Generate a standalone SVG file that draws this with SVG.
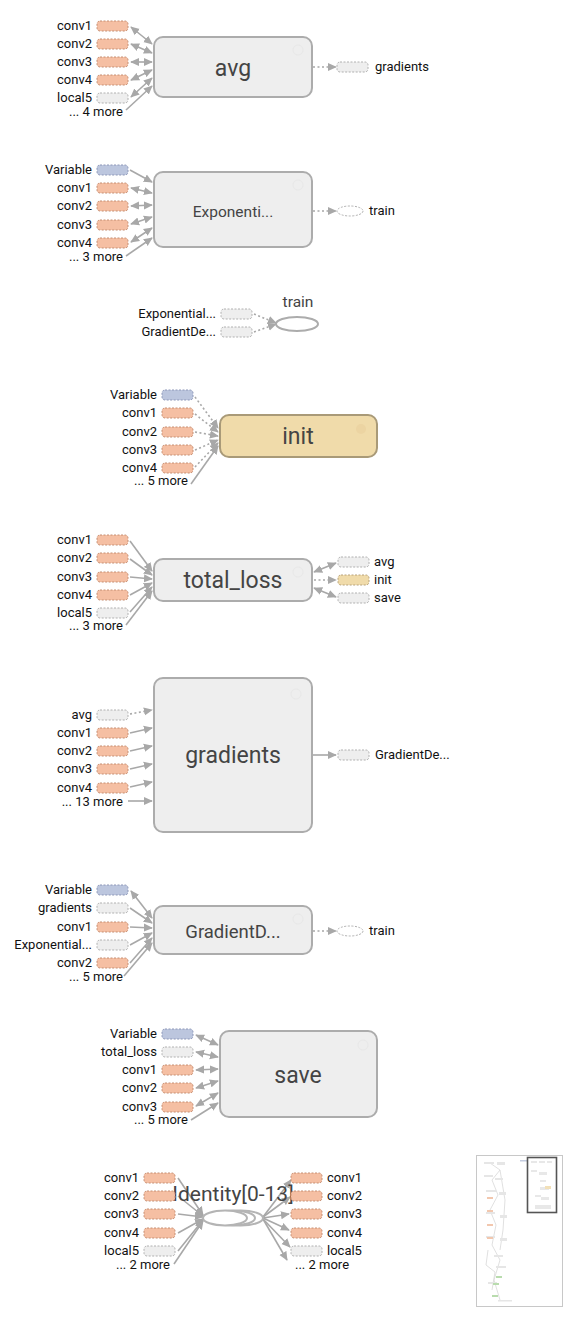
<svg xmlns="http://www.w3.org/2000/svg" width="571" height="1319" viewBox="0 0 571 1319">
<style>
.bg{fill:#fff}
.box{fill:#eeeeee;stroke:#acacac;stroke-width:2}
.ini{fill:#f0dbaa;stroke:#a99a78;stroke-width:2}
.big{font-family:Roboto,"Liberation Sans",sans-serif;fill:#444;text-anchor:middle}
.lb{font-family:Roboto,"Liberation Sans",sans-serif;font-size:13px;fill:#111}
.r{text-anchor:end}
.or{fill:#f5bfa3;stroke:#c58e72;stroke-width:1;stroke-dasharray:2 1.5}
.gr{fill:#eeeeee;stroke:#b0b0b0;stroke-width:1;stroke-dasharray:2 1.5}
.bl{fill:#bcc6de;stroke:#8d97b8;stroke-width:1;stroke-dasharray:2 1.5}
.tn{fill:#f0dbaa;stroke:#b8a27a;stroke-width:1;stroke-dasharray:2 1.5}
.ov{fill:#fff;stroke:#b0b0b0;stroke-width:1;stroke-dasharray:2 1.5}
.e{stroke:#a8a8a8;stroke-width:1.6;fill:none}
.d{stroke-dasharray:2 2.5}
.ic{fill:none;stroke:#e8e8e8;stroke-width:1}
</style>
<defs>
<marker id="a" viewBox="0 0 10 10" refX="9" refY="5" markerWidth="9" markerHeight="9" markerUnits="userSpaceOnUse" orient="auto-start-reverse"><path d="M0,0.5 L10,5 L0,9.5 z" fill="#a8a8a8"/></marker>
</defs>
<rect class="bg" x="0" y="0" width="571" height="1319"/>

<g id="connectors">
<!-- avg -->
<line class="e" x1="131" y1="27" x2="152" y2="44" marker-start="url(#a)" marker-end="url(#a)"/>
<line class="e" x1="131" y1="44" x2="152" y2="53" marker-start="url(#a)" marker-end="url(#a)"/>
<line class="e" x1="131" y1="62" x2="152" y2="62" marker-start="url(#a)" marker-end="url(#a)"/>
<line class="e" x1="131" y1="80" x2="152" y2="70" marker-start="url(#a)" marker-end="url(#a)"/>
<line class="e" x1="131" y1="97" x2="152" y2="78" marker-start="url(#a)" marker-end="url(#a)"/>
<line class="e" x1="126" y1="110" x2="152" y2="86" marker-end="url(#a)"/>
<line class="e d" x1="313" y1="67" x2="336" y2="67" marker-end="url(#a)"/>
<!-- Exponential -->
<line class="e" x1="130" y1="170" x2="152" y2="182" marker-end="url(#a)"/>
<line class="e" x1="131" y1="188" x2="152" y2="193" marker-start="url(#a)" marker-end="url(#a)"/>
<line class="e" x1="131" y1="206" x2="152" y2="205" marker-start="url(#a)" marker-end="url(#a)"/>
<line class="e" x1="131" y1="224" x2="152" y2="217" marker-start="url(#a)" marker-end="url(#a)"/>
<line class="e" x1="131" y1="242" x2="152" y2="228" marker-start="url(#a)" marker-end="url(#a)"/>
<line class="e" x1="126" y1="256" x2="152" y2="238" marker-end="url(#a)"/>
<line class="e d" x1="313" y1="211" x2="336" y2="211" marker-end="url(#a)"/>
<!-- train -->
<line class="e d" x1="254" y1="314" x2="276" y2="323" marker-end="url(#a)"/>
<line class="e d" x1="254" y1="332" x2="276" y2="324" marker-end="url(#a)"/>
<!-- init -->
<line class="e d" x1="195" y1="397" x2="218" y2="428" marker-end="url(#a)"/>
<line class="e d" x1="195" y1="414" x2="218" y2="432" marker-end="url(#a)"/>
<line class="e d" x1="195" y1="432" x2="218" y2="436" marker-end="url(#a)"/>
<line class="e d" x1="195" y1="450" x2="218" y2="440" marker-end="url(#a)"/>
<line class="e d" x1="195" y1="467" x2="218" y2="443" marker-end="url(#a)"/>
<line class="e" x1="191" y1="484" x2="218" y2="446" marker-end="url(#a)"/>
<!-- total_loss -->
<line class="e" x1="130" y1="541" x2="152" y2="571" marker-end="url(#a)"/>
<line class="e" x1="130" y1="559" x2="152" y2="575" marker-end="url(#a)"/>
<line class="e" x1="130" y1="577" x2="152" y2="579" marker-end="url(#a)"/>
<line class="e" x1="130" y1="595" x2="152" y2="583" marker-end="url(#a)"/>
<line class="e" x1="130" y1="612" x2="152" y2="587" marker-end="url(#a)"/>
<line class="e" x1="126" y1="625" x2="152" y2="591" marker-end="url(#a)"/>
<line class="e" x1="314" y1="572" x2="336" y2="563" marker-start="url(#a)" marker-end="url(#a)"/>
<line class="e d" x1="314" y1="580" x2="336" y2="580" marker-end="url(#a)"/>
<line class="e" x1="314" y1="588" x2="336" y2="597" marker-start="url(#a)" marker-end="url(#a)"/>
<!-- gradients -->
<line class="e d" x1="130" y1="714" x2="152" y2="710" marker-end="url(#a)"/>
<line class="e" x1="130" y1="733" x2="152" y2="728" marker-end="url(#a)"/>
<line class="e" x1="130" y1="751" x2="152" y2="746" marker-end="url(#a)"/>
<line class="e" x1="130" y1="769" x2="152" y2="764" marker-end="url(#a)"/>
<line class="e" x1="130" y1="787" x2="152" y2="782" marker-end="url(#a)"/>
<line class="e" x1="128" y1="801" x2="152" y2="801" marker-end="url(#a)"/>
<line class="e" x1="313" y1="755" x2="336" y2="755" marker-end="url(#a)"/>
<!-- GradientD -->
<line class="e" x1="131" y1="891" x2="152" y2="918" marker-start="url(#a)" marker-end="url(#a)"/>
<line class="e" x1="130" y1="908" x2="152" y2="923" marker-end="url(#a)"/>
<line class="e" x1="130" y1="927" x2="152" y2="928" marker-end="url(#a)"/>
<line class="e" x1="130" y1="945" x2="152" y2="933" marker-end="url(#a)"/>
<line class="e" x1="130" y1="963" x2="152" y2="938" marker-end="url(#a)"/>
<line class="e" x1="124" y1="976" x2="152" y2="943" marker-end="url(#a)"/>
<line class="e d" x1="313" y1="931" x2="336" y2="931" marker-end="url(#a)"/>
<!-- save -->
<line class="e" x1="196" y1="1035" x2="218" y2="1045" marker-start="url(#a)" marker-end="url(#a)"/>
<line class="e" x1="196" y1="1052" x2="218" y2="1057" marker-start="url(#a)" marker-end="url(#a)"/>
<line class="e" x1="196" y1="1070" x2="218" y2="1069" marker-start="url(#a)" marker-end="url(#a)"/>
<line class="e" x1="196" y1="1088" x2="218" y2="1081" marker-start="url(#a)" marker-end="url(#a)"/>
<line class="e" x1="196" y1="1106" x2="218" y2="1093" marker-start="url(#a)" marker-end="url(#a)"/>
<line class="e" x1="191" y1="1120" x2="218" y2="1103" marker-end="url(#a)"/>
<!-- Identity -->
<line class="e" x1="178" y1="1178" x2="203" y2="1215" marker-end="url(#a)"/>
<line class="e" x1="178" y1="1196" x2="203" y2="1216" marker-end="url(#a)"/>
<line class="e" x1="178" y1="1214" x2="203" y2="1217" marker-end="url(#a)"/>
<line class="e" x1="178" y1="1233" x2="203" y2="1219" marker-end="url(#a)"/>
<line class="e" x1="178" y1="1251" x2="203" y2="1220" marker-end="url(#a)"/>
<line class="e" x1="174" y1="1264" x2="203" y2="1221" marker-end="url(#a)"/>
<line class="e" x1="263" y1="1217" x2="291" y2="1180" marker-end="url(#a)"/>
<line class="e" x1="263" y1="1217" x2="290" y2="1197" marker-end="url(#a)"/>
<line class="e" x1="263" y1="1218" x2="289" y2="1214" marker-end="url(#a)"/>
<line class="e" x1="263" y1="1218" x2="289" y2="1230" marker-end="url(#a)"/>
<line class="e" x1="263" y1="1219" x2="290" y2="1247" marker-end="url(#a)"/>
<line class="e" x1="263" y1="1219" x2="287" y2="1260" marker-end="url(#a)"/>
</g>

<g id="avg">
<rect class="box" x="154" y="37" width="158" height="60" rx="9"/>
<circle class="ic" cx="298" cy="50" r="5"/>
<text class="big" x="233" y="76" font-size="23">avg</text>
<rect class="or" x="97" y="21" width="31" height="10" rx="3"/><text class="lb r" x="92" y="30">conv1</text>
<rect class="or" x="97" y="39" width="31" height="10" rx="3"/><text class="lb r" x="92" y="48">conv2</text>
<rect class="or" x="97" y="57" width="31" height="10" rx="3"/><text class="lb r" x="92" y="66">conv3</text>
<rect class="or" x="97" y="75" width="31" height="10" rx="3"/><text class="lb r" x="92" y="84">conv4</text>
<rect class="gr" x="97" y="93" width="31" height="10" rx="3"/><text class="lb r" x="92" y="102">local5</text>
<text class="lb r" x="123" y="116">... 4 more</text>
<rect class="gr" x="337" y="62" width="31" height="10" rx="3"/><text class="lb" x="375" y="71">gradients</text>
</g>

<g id="exponential">
<rect class="box" x="154" y="172" width="158" height="75" rx="9"/>
<circle class="ic" cx="298" cy="185" r="5"/>
<text class="big" x="233" y="217" font-size="15.5">Exponenti...</text>
<rect class="bl" x="97" y="165" width="31" height="10" rx="3"/><text class="lb r" x="92" y="174">Variable</text>
<rect class="or" x="97" y="183" width="31" height="10" rx="3"/><text class="lb r" x="92" y="192">conv1</text>
<rect class="or" x="97" y="201" width="31" height="10" rx="3"/><text class="lb r" x="92" y="210">conv2</text>
<rect class="or" x="97" y="220" width="31" height="10" rx="3"/><text class="lb r" x="92" y="229">conv3</text>
<rect class="or" x="97" y="238" width="31" height="10" rx="3"/><text class="lb r" x="92" y="247">conv4</text>
<text class="lb r" x="123" y="261">... 3 more</text>
<ellipse class="ov" cx="350" cy="211" rx="13" ry="5"/><text class="lb" x="369" y="215">train</text>
</g>

<g id="train">
<ellipse cx="297" cy="324" rx="21" ry="7" fill="#fff" stroke="#acacac" stroke-width="2"/>
<text class="big" x="298" y="307" font-size="15.5">train</text>
<rect class="gr" x="221" y="309" width="31" height="10" rx="3"/><text class="lb r" x="216" y="318">Exponential...</text>
<rect class="gr" x="221" y="327" width="31" height="10" rx="3"/><text class="lb r" x="216" y="336">GradientDe...</text>
</g>

<g id="init">
<rect class="ini" x="220" y="415" width="157" height="42" rx="9"/>
<circle cx="361" cy="429" r="5" fill="#ecd4a2" stroke="none"/>
<text class="big" x="298" y="444" font-size="23">init</text>
<rect class="bl" x="162" y="390" width="31" height="10" rx="3"/><text class="lb r" x="157" y="399">Variable</text>
<rect class="or" x="162" y="408" width="31" height="10" rx="3"/><text class="lb r" x="157" y="417">conv1</text>
<rect class="or" x="162" y="427" width="31" height="10" rx="3"/><text class="lb r" x="157" y="436">conv2</text>
<rect class="or" x="162" y="445" width="31" height="10" rx="3"/><text class="lb r" x="157" y="454">conv3</text>
<rect class="or" x="162" y="463" width="31" height="10" rx="3"/><text class="lb r" x="157" y="472">conv4</text>
<text class="lb r" x="188" y="485">... 5 more</text>
</g>

<g id="total_loss">
<rect class="box" x="154" y="559" width="158" height="42" rx="9"/>
<circle class="ic" cx="298" cy="572" r="5"/>
<text class="big" x="233" y="588" font-size="23">total_loss</text>
<rect class="or" x="97" y="535" width="31" height="10" rx="3"/><text class="lb r" x="92" y="544">conv1</text>
<rect class="or" x="97" y="553" width="31" height="10" rx="3"/><text class="lb r" x="92" y="562">conv2</text>
<rect class="or" x="97" y="572" width="31" height="10" rx="3"/><text class="lb r" x="92" y="581">conv3</text>
<rect class="or" x="97" y="590" width="31" height="10" rx="3"/><text class="lb r" x="92" y="599">conv4</text>
<rect class="gr" x="97" y="608" width="31" height="10" rx="3"/><text class="lb r" x="92" y="617">local5</text>
<text class="lb r" x="123" y="630">... 3 more</text>
<rect class="gr" x="338" y="557" width="31" height="10" rx="3"/><text class="lb" x="374" y="566">avg</text>
<rect class="tn" x="338" y="575" width="31" height="10" rx="3"/><text class="lb" x="374" y="584">init</text>
<rect class="gr" x="338" y="593" width="31" height="10" rx="3"/><text class="lb" x="374" y="602">save</text>
</g>

<g id="gradients">
<rect class="box" x="154" y="678" width="158" height="154" rx="9"/>
<circle class="ic" cx="296" cy="694" r="5"/>
<text class="big" x="233" y="763" font-size="23">gradients</text>
<rect class="gr" x="97" y="710" width="31" height="10" rx="3"/><text class="lb r" x="92" y="719">avg</text>
<rect class="or" x="97" y="728" width="31" height="10" rx="3"/><text class="lb r" x="92" y="737">conv1</text>
<rect class="or" x="97" y="746" width="31" height="10" rx="3"/><text class="lb r" x="92" y="755">conv2</text>
<rect class="or" x="97" y="764" width="31" height="10" rx="3"/><text class="lb r" x="92" y="773">conv3</text>
<rect class="or" x="97" y="783" width="31" height="10" rx="3"/><text class="lb r" x="92" y="792">conv4</text>
<text class="lb r" x="123" y="806">... 13 more</text>
<rect class="gr" x="338" y="750" width="31" height="10" rx="3"/><text class="lb" x="375" y="759">GradientDe...</text>
</g>

<g id="gradientdescent">
<rect class="box" x="154" y="906" width="158" height="48" rx="9"/>
<circle class="ic" cx="298" cy="919" r="5"/>
<text class="big" x="233" y="938" font-size="18.5">GradientD...</text>
<rect class="bl" x="97" y="885" width="31" height="10" rx="3"/><text class="lb r" x="92" y="894">Variable</text>
<rect class="gr" x="97" y="903" width="31" height="10" rx="3"/><text class="lb r" x="92" y="912">gradients</text>
<rect class="or" x="97" y="922" width="31" height="10" rx="3"/><text class="lb r" x="92" y="931">conv1</text>
<rect class="gr" x="97" y="940" width="31" height="10" rx="3"/><text class="lb r" x="92" y="949">Exponential...</text>
<rect class="or" x="97" y="958" width="31" height="10" rx="3"/><text class="lb r" x="92" y="967">conv2</text>
<text class="lb r" x="123" y="981">... 5 more</text>
<ellipse class="ov" cx="350" cy="931" rx="13" ry="5"/><text class="lb" x="369" y="935">train</text>
</g>

<g id="save">
<rect class="box" x="220" y="1031" width="157" height="86" rx="9"/>
<circle class="ic" cx="363" cy="1045" r="5"/>
<text class="big" x="298" y="1083" font-size="23">save</text>
<rect class="bl" x="162" y="1029" width="31" height="10" rx="3"/><text class="lb r" x="157" y="1038">Variable</text>
<rect class="gr" x="162" y="1047" width="31" height="10" rx="3"/><text class="lb r" x="157" y="1056">total_loss</text>
<rect class="or" x="162" y="1065" width="31" height="10" rx="3"/><text class="lb r" x="157" y="1074">conv1</text>
<rect class="or" x="162" y="1083" width="31" height="10" rx="3"/><text class="lb r" x="157" y="1092">conv2</text>
<rect class="or" x="162" y="1102" width="31" height="10" rx="3"/><text class="lb r" x="157" y="1111">conv3</text>
<text class="lb r" x="188" y="1124">... 5 more</text>
</g>

<g id="identity">
<ellipse cx="241" cy="1218" rx="22" ry="7.5" fill="#fff" stroke="#b4b4b4" stroke-width="2"/>
<ellipse cx="233" cy="1218" rx="22" ry="7.5" fill="#fff" stroke="#b4b4b4" stroke-width="2"/>
<ellipse cx="225" cy="1218" rx="22" ry="7.5" fill="#fff" stroke="#b4b4b4" stroke-width="2"/>
<text class="big" x="233" y="1201" font-size="21">Identity[0-13]</text>
<rect class="or" x="144" y="1173" width="31" height="10" rx="3"/><text class="lb r" x="139" y="1182">conv1</text>
<rect class="or" x="144" y="1191" width="31" height="10" rx="3"/><text class="lb r" x="139" y="1200">conv2</text>
<rect class="or" x="144" y="1209" width="31" height="10" rx="3"/><text class="lb r" x="139" y="1218">conv3</text>
<rect class="or" x="144" y="1228" width="31" height="10" rx="3"/><text class="lb r" x="139" y="1237">conv4</text>
<rect class="gr" x="144" y="1246" width="31" height="10" rx="3"/><text class="lb r" x="139" y="1255">local5</text>
<text class="lb r" x="170" y="1269">... 2 more</text>
<rect class="or" x="291" y="1173" width="31" height="10" rx="3"/><text class="lb" x="327" y="1182">conv1</text>
<rect class="or" x="291" y="1191" width="31" height="10" rx="3"/><text class="lb" x="327" y="1200">conv2</text>
<rect class="or" x="291" y="1209" width="31" height="10" rx="3"/><text class="lb" x="327" y="1218">conv3</text>
<rect class="or" x="291" y="1228" width="31" height="10" rx="3"/><text class="lb" x="327" y="1237">conv4</text>
<rect class="gr" x="291" y="1246" width="31" height="10" rx="3"/><text class="lb" x="327" y="1255">local5</text>
<text class="lb" x="295" y="1269">... 2 more</text>
</g>

<g id="minimap">
<rect x="476.5" y="1155.5" width="86" height="151" fill="#fff" stroke="#c8c8c8" stroke-width="1"/>
<g stroke="#d8d8d8" stroke-width="0.8" fill="none">
<path d="M490,1163 L500,1170 L492,1180 L498,1195 L490,1210 L496,1225 L492,1245 L500,1260 L494,1280 L500,1300"/>
<path d="M500,1170 L505,1200 L503,1230 L500,1250"/>
<path d="M488,1250 L486,1265 L495,1272 L492,1290"/>
</g>
<g fill="#e6e6e6">
<rect x="484" y="1162" width="10" height="2"/><rect x="497" y="1162" width="8" height="3"/>
<rect x="484" y="1175" width="9" height="2"/><rect x="495" y="1178" width="8" height="2"/>
<rect x="486" y="1190" width="10" height="2"/><rect x="499" y="1192" width="7" height="3"/>
<rect x="486" y="1212" width="9" height="2"/><rect x="500" y="1215" width="7" height="3"/>
<rect x="486" y="1236" width="9" height="2"/><rect x="500" y="1238" width="7" height="3"/>
<rect x="494" y="1255" width="9" height="2"/><rect x="496" y="1266" width="10" height="2"/>
<rect x="488" y="1282" width="9" height="2"/><rect x="498" y="1300" width="14" height="1.5"/>
</g>
<g fill="#f2c7ae">
<rect x="487" y="1197" width="6" height="2"/><rect x="487" y="1210" width="6" height="2"/>
<rect x="487" y="1224" width="6" height="2"/><rect x="487" y="1237" width="6" height="2"/>
</g>
<g fill="#b9dcae">
<rect x="496" y="1276" width="6" height="2"/><rect x="493" y="1283" width="6" height="2"/><rect x="492" y="1295" width="6" height="2"/>
</g>
<rect x="520" y="1160" width="8" height="1.5" fill="#c5cde0"/>
<rect x="527.5" y="1157.5" width="29" height="55" fill="none" stroke="#555" stroke-width="1.6"/>
<g fill="#e8e8e8">
<rect x="531" y="1161" width="6" height="2"/><rect x="539" y="1161" width="6" height="2"/><rect x="547" y="1161" width="5" height="2"/>
<rect x="531" y="1170" width="6" height="2"/><rect x="539" y="1172" width="8" height="3"/>
<rect x="540" y="1180" width="6" height="2"/>
<rect x="540" y="1187" width="9" height="3"/><rect x="535" y="1195" width="6" height="2"/><rect x="541" y="1197" width="8" height="3"/>
<rect x="535" y="1205" width="16" height="4"/>
</g>
<rect x="545" y="1186" width="6" height="3" fill="#f2e0b8"/>
</g>
</svg>
